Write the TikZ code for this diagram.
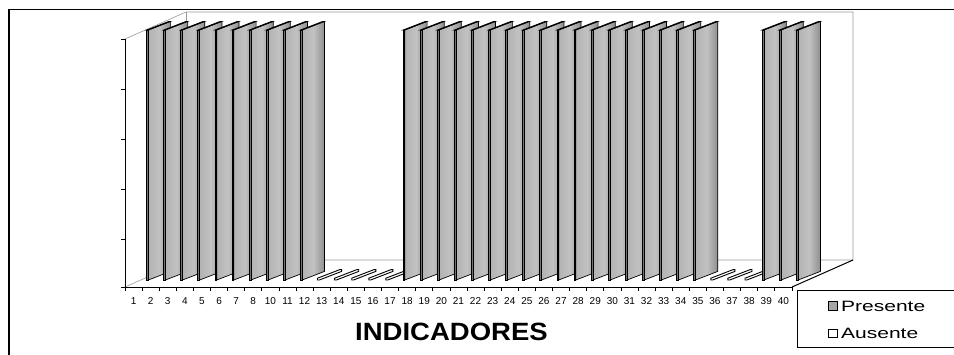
\documentclass[tikz,border=0pt]{standalone}
\usepackage{fontspec}
\setmainfont{Liberation Sans}
\usepackage{graphicx}
\usepackage{tikz}

\tikzset{
  wall/.style={black!40,line width=0.6pt},
  axis/.style={black,line width=1pt},
  tick/.style={black,line width=0.8pt},
  bar/.style={draw=black,line width=0.7pt},
  lbl/.style={font=\fontsize{10}{10}\selectfont,inner sep=1pt}
}

\begin{document}
\begin{tikzpicture}[x=1pt,y=-1pt]
\useasboundingbox (0,0) rectangle (954,354);
%\draw [thick,red,dashed] (0,0) rectangle (954,354);

\draw [line width=1.3pt] (9,360) -- (9,9.5) -- (960,9.5);

\draw [wall] (125,287) -- (186,260) -- (853,260) -- (853,12) -- (186,12) -- (125,39);
\draw [wall] (186,12) -- (186,260);
\draw [axis] (792,287) -- (853,260);

\draw [axis] (125,39) -- (125,287) -- (792,287);
\foreach \y in {39,89,139,189,239,287} \draw [tick] (121,\y) -- (125,\y);
\foreach \k in {0,...,39} \draw [tick] (125+17.1*\k,287) -- (125+17.1*\k,291);

\foreach \h [count=\i] in {1,1,1,1,1,1,1,1,1,1,0,0,0,0,0,1,1,1,1,1,1,1,1,1,1,1,1,1,1,1,1,1,1,0,0,0,1,1,1}{
  \pgfmathsetmacro{\x}{148.3+17.1*(\i-1)}
  \ifnum\h=1
    \shade [left color=black!30,right color=black!44,middle color=black!24] (\x,280) -- (\x+22.3,271.4) -- (\x+22.3,21.4) -- (\x,30) -- cycle;
    \draw [bar] (\x,280) -- (\x+22.3,271.4) -- (\x+22.3,21.4) -- (\x,30) -- cycle;
    \draw [bar,fill=black!55] (\x-1.8,30) rectangle (\x,280);
    \draw [bar,fill=black!60] (\x-1.8,30) -- (\x,30) -- (\x+22.3,21.4) -- (\x+20.5,21.4) -- cycle;
  \else
    \draw [bar,line width=0.9pt,fill=white] (\x-1.8,280) -- (\x,280) -- (\x+22.3,271.4) -- (\x+22.3,269.6) -- (\x+20.5,269.6) -- (\x-1.8,278.2) -- cycle;
  \fi
}

\foreach \n [count=\k] in {1,...,8,10,11,...,40}
  \node [lbl] (x\k) at (116.45+17.1*\k,301.5) {\n};

\node [font=\fontsize{25}{25}\selectfont\bfseries] (title) at (451.5,332) {\scalebox{1.1}[1]{INDICADORES}};

\draw [line width=1pt] (797.3,290) rectangle (960,347.5);
\node [draw,line width=0.8pt,fill=black!35,minimum size=8.5pt,inner sep=0pt] (mpres) at (833,306) {};
\node [draw,line width=0.8pt,fill=white,minimum size=8.5pt,inner sep=0pt] (maus) at (833,333.5) {};
\node [anchor=base west,font=\fontsize{15}{15}\selectfont,inner sep=0pt] (pres) at (841,311) {\scalebox{1.4}[1]{Presente}};
\node [anchor=base west,font=\fontsize{15}{15}\selectfont,inner sep=0pt] (aus) at (841,338) {\scalebox{1.4}[1]{Ausente}};
\end{tikzpicture}
\end{document}
